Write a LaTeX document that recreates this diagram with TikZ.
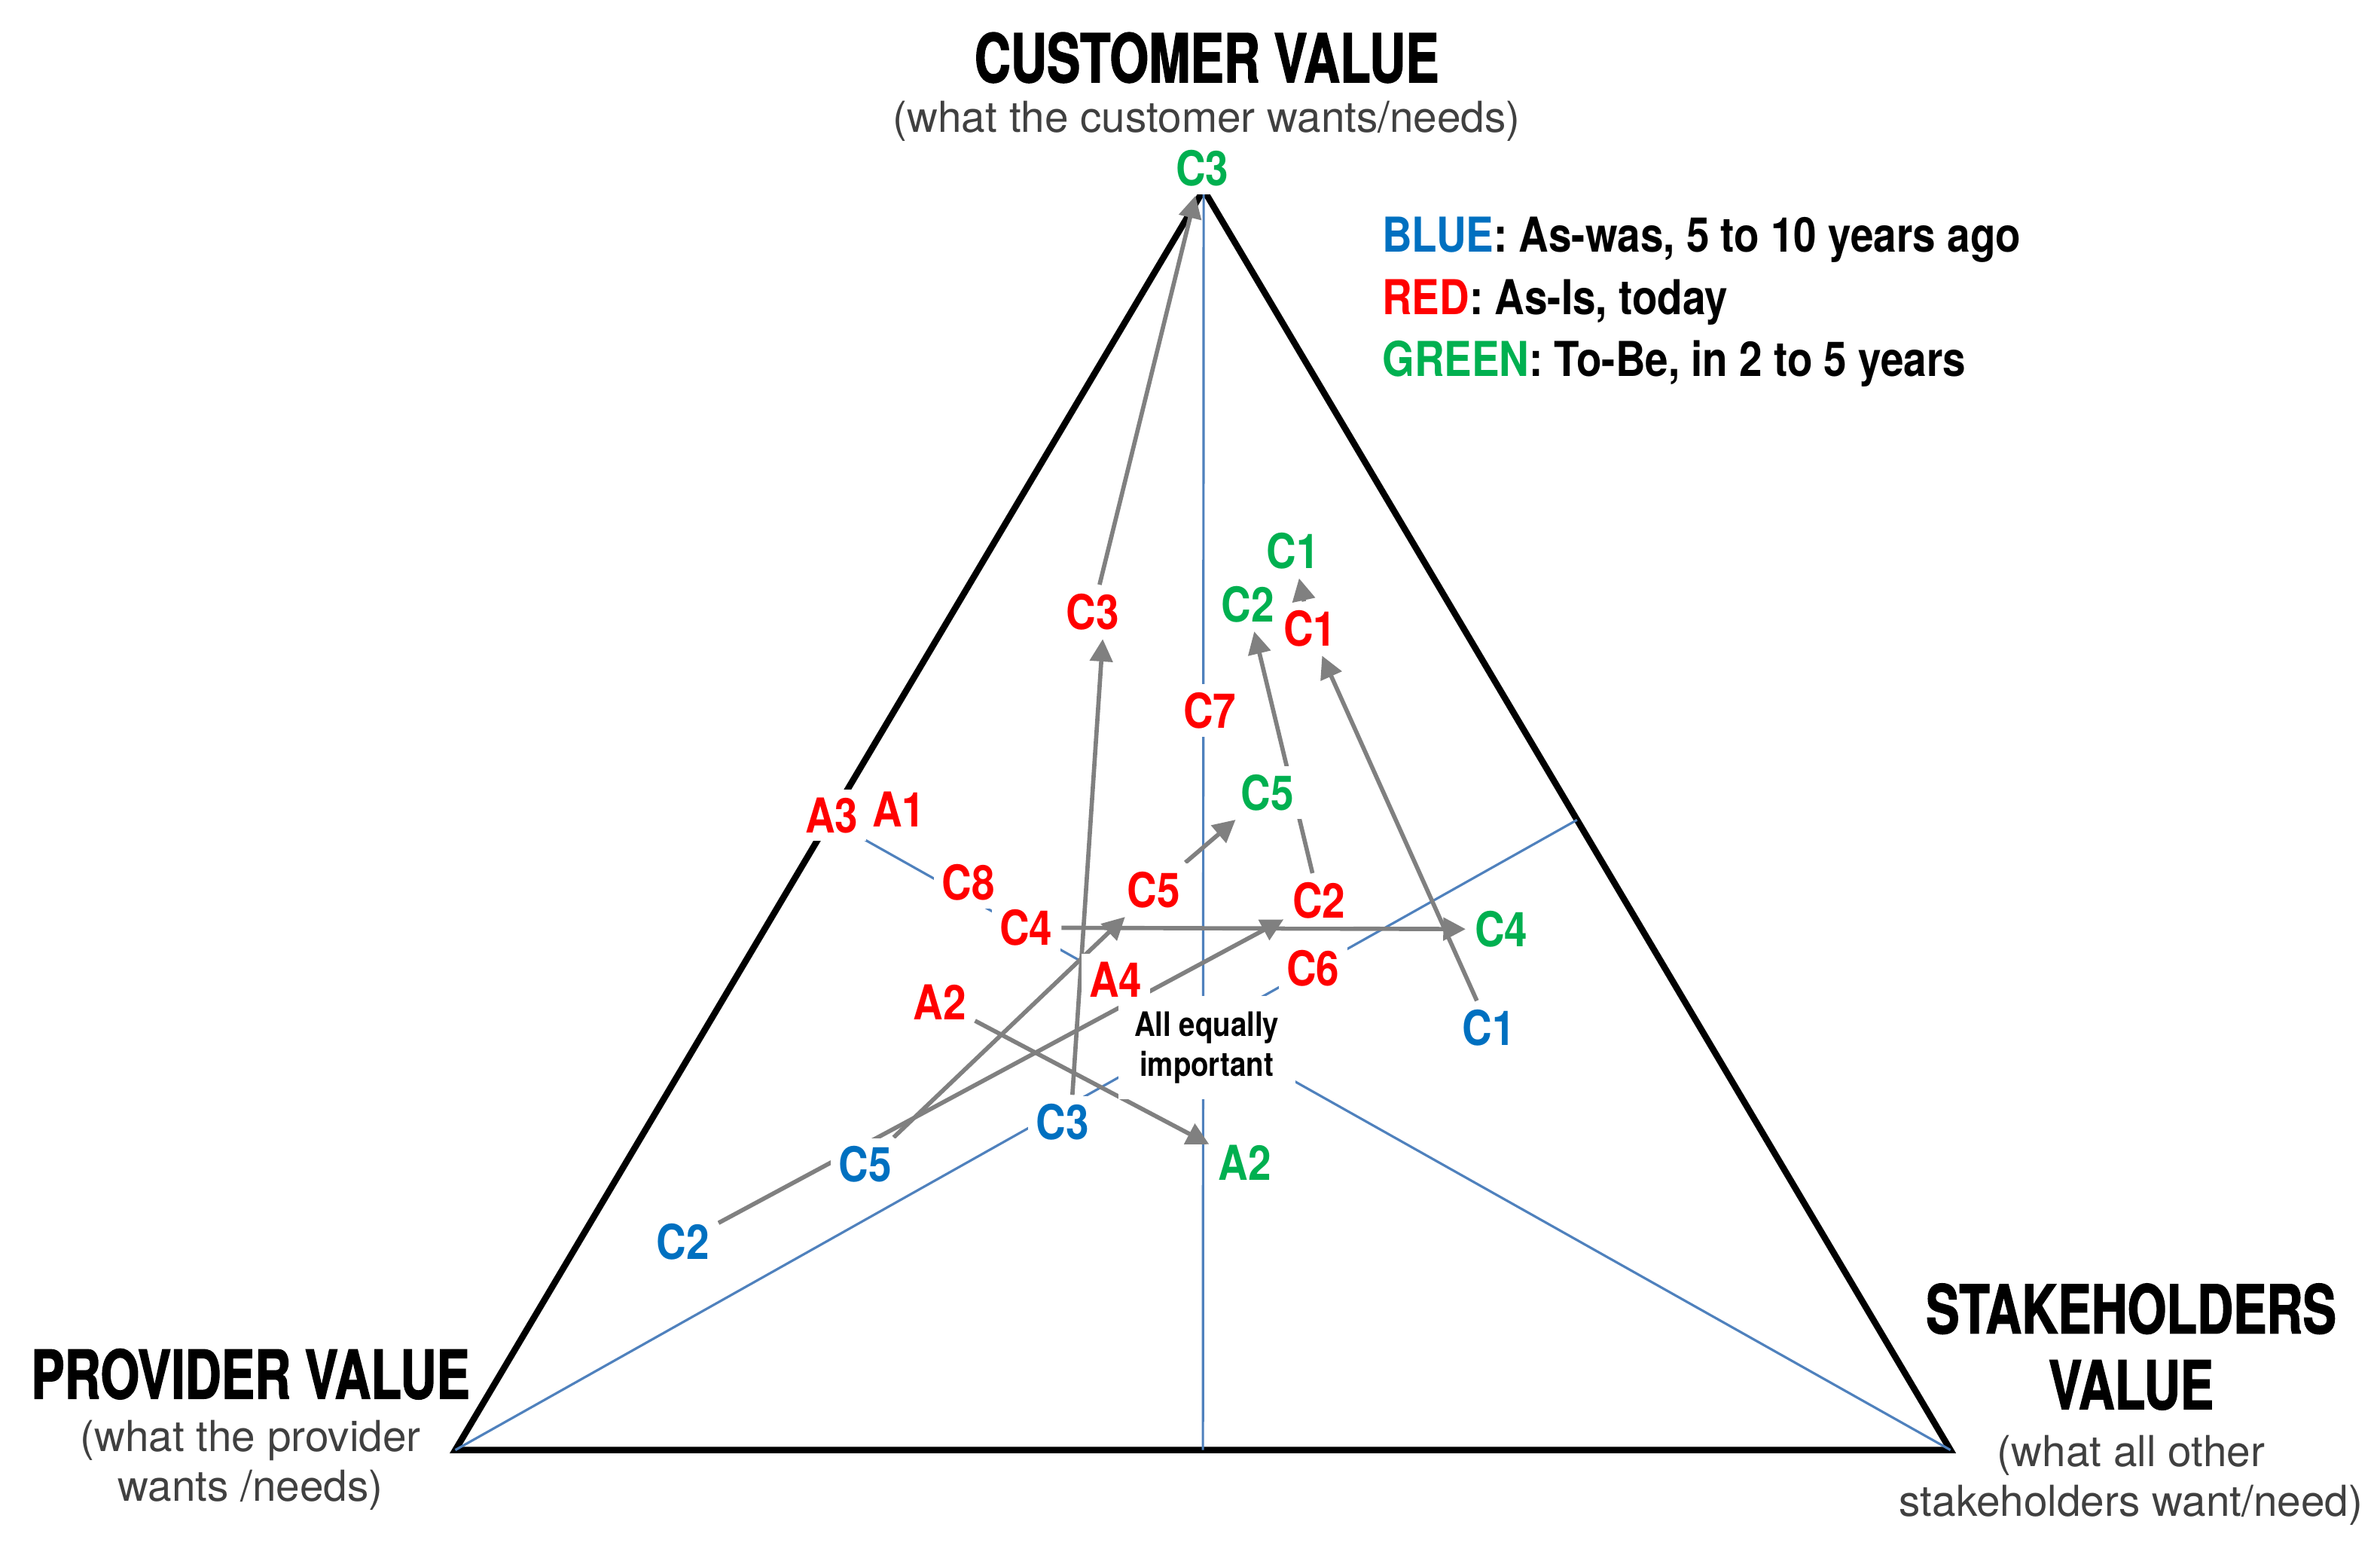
\documentclass[tikz,border=0pt]{standalone}
\usepackage{fontspec}
\setmainfont{TeX Gyre Heros}
\newfontfamily\titlefont[FakeStretch=0.745,FakeBold=1.5]{TeX Gyre Heros}
\newfontfamily\labfont[FakeStretch=0.86]{TeX Gyre Heros}
\usetikzlibrary{arrows.meta,calc}
\pgfdeclarelayer{background}
\pgfsetlayers{background,main}
\definecolor{wasblue}{RGB}{0,112,192}
\definecolor{isred}{RGB}{255,0,0}
\definecolor{begreen}{RGB}{0,176,80}
\definecolor{lineblue}{RGB}{79,129,189}
\definecolor{arrowgray}{RGB}{128,128,128}
\definecolor{subgray}{RGB}{64,64,64}

\begin{document}
\begin{tikzpicture}[
  x = 0.01cm, y = -0.01cm,
  lab/.style={font=\labfont\bfseries\fontsize{9}{10}\selectfont, fill=white, inner sep=1.5pt},
  asWas/.style={lab, text=wasblue},
  asIs/.style={lab, text=isred},
  toBe/.style={lab, text=begreen},
  corner/.style={font=\titlefont\bfseries\fontsize{12.6}{14.2}\selectfont, align=center},
  sub/.style={font=\fontsize{8}{9.4}\selectfont, text=subgray, align=center},
  legend/.style={font=\labfont\bfseries\fontsize{9}{10}\selectfont, anchor=base west, inner sep=0pt},
  side/.style={line width=1.2pt, black},
  median/.style={line width=0.45pt, lineblue},
  move/.style={line width=0.8pt, arrowgray, -{Triangle[length=4.2pt,width=4.2pt]}}
]
\useasboundingbox (0,0) rectangle (1568,1022);

%corners of the triangle
\coordinate (P) at (300,955);
\coordinate (S) at (1285,955);
\coordinate (T) at (793,125);

%corner titles
\node[corner] (custTitle)  at (795,38)   {CUSTOMER VALUE};
\node[sub]    (custSub)    at (795,80)   {(what the customer wants/needs)};
\node[corner] (provTitle)  at (165,905)  {PROVIDER VALUE};
\node[sub]    (provSub)    at (165,965)  {(what the provider\\wants /needs)};
\node[corner] (stakeTitle) at (1404,887) {STAKEHOLDERS\\VALUE};
\node[sub]    (stakeSub)   at (1404,975) {(what all other\\stakeholders want/need)};

%legend
\node[legend] (legWas) at (910,166) {\textcolor{wasblue}{BLUE}: As-was, 5 to 10 years ago};
\node[legend] (legIs)  at (910,207) {\textcolor{isred}{RED}: As-Is, today};
\node[legend] (legBe)  at (910,248) {\textcolor{begreen}{GREEN}: To-Be, in 2 to 5 years};

%centre
\node[font=\labfont\bfseries\fontsize{6.3}{7.4}\selectfont, fill=white, align=center, inner sep=3pt]
  (equal) at (795,690) {All equally\\important};

%as-was
\node[asWas] (c1w) at (981,677) {C1};
\node[asWas] (c2w) at (450,818) {C2};
\node[asWas] (c3w) at (700,739) {C3};
\node[asWas] (c5w) at (570,767) {C5};

%as-is
\node[asIs] (c1i) at (863,414) {C1};
\node[asIs] (c2i) at (869,593) {C2};
\node[asIs] (c3i) at (720,403) {C3};
\node[asIs] (c4i) at (676,611) {C4};
\node[asIs] (c5i) at (760,586) {C5};
\node[asIs] (c6i) at (865,638) {C6};
\node[asIs] (c7i) at (797,468) {C7};
\node[asIs] (c8i) at (638,581) {C8};
\node[asIs] (a1i) at (592,533) {A1};
\node[asIs] (a2i) at (619,660) {A2};
\node[asIs] (a3i) at (548,537) {A3};
\node[asIs] (a4i) at (735,645) {A4};

%to-be
\node[toBe] (c1b) at (852,363) {C1};
\node[toBe] (c2b) at (822,398) {C2};
\node[toBe] (c3b) at (792,111) {C3};
\node[toBe] (c4b) at (989,612) {C4};
\node[toBe] (c5b) at (835,522) {C5};
\node[toBe] (a2b) at (820,766) {A2};

\begin{pgfonlayer}{background}
%triangle and medians
\draw[side] (P) -- (S) -- (T) -- cycle;
\draw[median] (T) -- ($(P)!.5!(S)$);
\draw[median] (P) -- ($(T)!.5!(S)$);
\draw[median] (S) -- ($(P)!.5!(T)$);

%moves
\draw[move] (c3w.70) -- (c3i.-70);
\draw[move] (c3i) -- (c3b);
\draw[move] (c1w) -- (c1i);
\draw[move] (c1i) -- (c1b);
\draw[move] (c2w) -- (c2i);
\draw[move] (c2i) -- (c2b);
\draw[move] (c5w) -- (c5i);
\draw[move] (c5i) -- (c5b);
\draw[move] (c4i) -- (c4b);
\draw[move] (a2i) -- (a2b);
\end{pgfonlayer}

\end{tikzpicture}
\end{document}
